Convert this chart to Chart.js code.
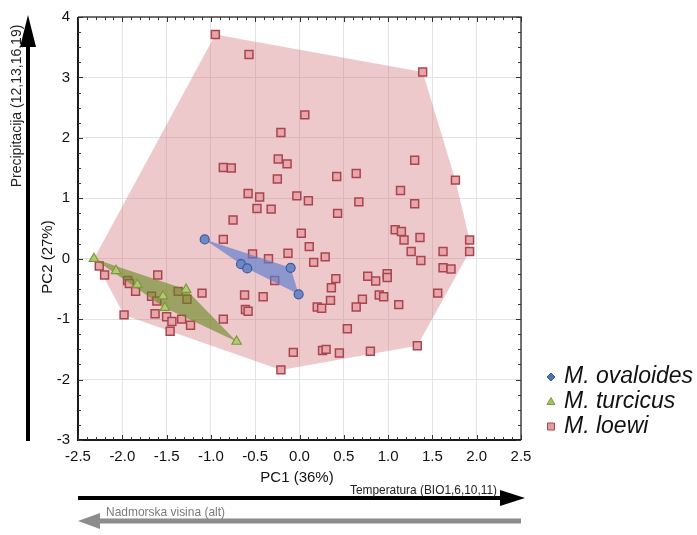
<!DOCTYPE html>
<html>
<head>
<meta charset="utf-8">
<script src="https://cdn.jsdelivr.net/npm/chart.js@4.4.1/dist/chart.umd.min.js"></script>
<style>
  body { margin: 0; background: #fff; }
  #wrap { width: 697px; height: 535px; }
</style>
</head>
<body>
<div id="wrap"><canvas id="pcaChart" width="697" height="535"></canvas></div>
<script>
// PCA scores per species (PC1, PC2)
const ovaloidesPC1 = [-1.07, -0.66, -0.59, -0.10, -0.01];
const ovaloidesPC2 = [0.32, -0.09, -0.16, -0.15, -0.59];

const turcicusPC1 = [-2.32, -2.07, -1.83, -1.54, -1.28, -1.52, -0.71];
const turcicusPC2 = [0.00, -0.20, -0.43, -0.62, -0.51, -0.81, -1.37];

const loewiPC1 = [
  -0.95, -0.57, 1.39, 0.06, -0.21, -0.86, -0.77, -0.24, -0.14, -0.25,
  -0.58, -0.45, -0.03, -0.48, -0.32, -0.75, 0.42, 0.64, 1.30, 1.76,
  1.14, 0.10, 0.67, 1.30, 0.43, 0.02, 1.08, 1.15, -0.86, -0.53,
  -0.35, -0.13, -0.28, -2.26, -2.20, -1.60, -1.94, -1.92, -1.85, -1.67,
  -1.61, -1.37, -1.27, -1.10, -0.62, -0.41, -0.61, -0.58, -0.86, -1.98,
  -1.63, -1.50, -1.44, -1.33, -1.23, -1.46, -0.07, -0.21, 1.18, 1.36,
  1.92, 1.92, 1.62, 1.26, 1.37, 0.11, 0.16, 0.29, 1.62, 1.71,
  0.41, 0.36, 0.77, 0.86, 0.99, 0.99, 0.90, 0.95, 0.71, 0.35,
  0.20, 0.25, 0.64, 1.12, 1.56, 0.54, 1.33, 0.26, 0.30, 0.45,
  0.80
];
const loewiPC2 = [
  3.71, 3.38, 3.09, 2.38, 2.09, 1.51, 1.50, 1.65, 1.57, 1.32,
  1.08, 1.02, 1.04, 0.83, 0.82, 0.64, 1.36, 1.41, 1.63, 1.30,
  1.13, 0.96, 0.94, 0.91, 0.75, 0.42, 0.48, 0.45, 0.32, 0.08,
  0.00, 0.09, -0.36, -0.12, -0.27, -0.27, -0.36, -0.41, -0.54, -0.62,
  -0.70, -0.54, -0.67, -0.57, -0.60, -0.63, -0.84, -0.87, -1.00, -0.93,
  -0.91, -0.96, -1.04, -1.00, -1.10, -1.20, -1.55, -1.84, 0.31, 0.35,
  0.31, 0.12, 0.12, 0.12, -0.03, 0.20, -0.06, 0.03, -0.15, -0.17,
  -0.33, -0.48, -0.29, -0.37, -0.25, -0.31, -0.60, -0.63, -0.67, -0.69,
  -0.80, -0.82, -0.80, -0.76, -0.57, -1.16, -1.44, -1.52, -1.50, -1.56,
  -1.53
];

const xTickValues = [-2.5, -2.0, -1.5, -1.0, -0.5, 0.0, 0.5, 1.0, 1.5, 2.0, 2.5];
const yTickValues = [-3, -2, -1, 0, 1, 2, 3, 4];

const toPoints = (xs, ys) => xs.map((x, i) => ({ x: x, y: ys[i] }));

const ovaloides = toPoints(ovaloidesPC1, ovaloidesPC2);
const turcicus = toPoints(turcicusPC1, turcicusPC2);
const loewi = toPoints(loewiPC1, loewiPC2);

// monotone chain convex hull
function convexHull(points) {
  const p = points.slice().sort((a, b) => a.x - b.x || a.y - b.y);
  const cross = (o, a, b) => (a.x - o.x) * (b.y - o.y) - (a.y - o.y) * (b.x - o.x);
  const lower = [];
  for (const pt of p) {
    while (lower.length >= 2 && cross(lower[lower.length - 2], lower[lower.length - 1], pt) <= 0) lower.pop();
    lower.push(pt);
  }
  const upper = [];
  for (let i = p.length - 1; i >= 0; i--) {
    const pt = p[i];
    while (upper.length >= 2 && cross(upper[upper.length - 2], upper[upper.length - 1], pt) <= 0) upper.pop();
    upper.push(pt);
  }
  upper.pop();
  lower.pop();
  return lower.concat(upper);
}

const FONT = '"Liberation Sans", Arial, sans-serif';

// shaded envelope drawn just under each species' markers
const hullPlugin = {
  id: 'hulls',
  beforeDatasetDraw(chart, args) {
    const ds = chart.data.datasets[args.index];
    const hull = convexHull(ds.hullPoints || ds.data);
    const xs = chart.scales.x, ys = chart.scales.y;
    const ctx = chart.ctx;
    ctx.save();
    ctx.beginPath();
    hull.forEach((p, i) => {
      const px = xs.getPixelForValue(p.x), py = ys.getPixelForValue(p.y);
      if (i === 0) ctx.moveTo(px, py); else ctx.lineTo(px, py);
    });
    ctx.closePath();
    ctx.fillStyle = ds.hullColor;
    ctx.fill();
    ctx.restore();
  }
};

// box frame with inward minor ticks
const framePlugin = {
  id: 'frame',
  afterDatasetsDraw(chart) {
    const { ctx, chartArea: a } = chart;
    const xs = chart.scales.x, ys = chart.scales.y;
    ctx.save();
    ctx.strokeStyle = '#444';
    ctx.lineWidth = 1.5;
    ctx.beginPath();
    ctx.moveTo(a.left, a.top); ctx.lineTo(a.right, a.top); ctx.lineTo(a.right, a.bottom);
    ctx.stroke();
    ctx.strokeStyle = '#1a1a1a';
    ctx.lineWidth = 2;
    ctx.beginPath();
    ctx.moveTo(a.left, a.top); ctx.lineTo(a.left, a.bottom); ctx.lineTo(a.right, a.bottom);
    ctx.stroke();

    ctx.lineWidth = 1;
    ctx.strokeStyle = '#333';
    ctx.beginPath();
    for (let i = -25; i <= 25; i++) {
      const px = Math.round(xs.getPixelForValue(i / 10)) + 0.5;
      const len = i % 5 === 0 ? 5 : 3;
      ctx.moveTo(px, a.top); ctx.lineTo(px, a.top + len);
      ctx.moveTo(px, a.bottom); ctx.lineTo(px, a.bottom - len);
    }
    for (let j = -12; j <= 16; j++) {
      const py = Math.round(ys.getPixelForValue(j / 4)) + 0.5;
      const len = j % 4 === 0 ? 5 : 3;
      ctx.moveTo(a.left, py); ctx.lineTo(a.left + len, py);
      ctx.moveTo(a.right, py); ctx.lineTo(a.right - len, py);
    }
    ctx.stroke();
    ctx.restore();
  }
};

function arrow(ctx, x1, y1, x2, y2, shaft, headLen, headHalf, color) {
  const ang = Math.atan2(y2 - y1, x2 - x1);
  const bx = x2 - Math.cos(ang) * headLen, by = y2 - Math.sin(ang) * headLen;
  ctx.save();
  ctx.strokeStyle = color;
  ctx.fillStyle = color;
  ctx.lineWidth = shaft;
  ctx.beginPath();
  ctx.moveTo(x1, y1); ctx.lineTo(bx, by);
  ctx.stroke();
  ctx.beginPath();
  ctx.moveTo(x2, y2);
  ctx.lineTo(bx + Math.sin(ang) * headHalf, by - Math.cos(ang) * headHalf);
  ctx.lineTo(bx - Math.sin(ang) * headHalf, by + Math.cos(ang) * headHalf);
  ctx.closePath();
  ctx.fill();
  ctx.restore();
}

// axis titles, gradient arrows and the species key
const annotationPlugin = {
  id: 'annotations',
  afterDraw(chart) {
    const ctx = chart.ctx;
    const a = chart.chartArea;
    ctx.save();
    ctx.fillStyle = '#111';
    ctx.textAlign = 'center';
    ctx.textBaseline = 'middle';
    ctx.font = '15px ' + FONT;
    ctx.fillText('PC1 (36%)', 297, 478);

    ctx.save();
    ctx.translate(48, 257);
    ctx.rotate(-Math.PI / 2);
    ctx.fillText('PC2 (27%)', 0, 0);
    ctx.restore();

    // PC2 gradient
    arrow(ctx, 28, 441, 28, 15, 4, 32, 8, '#000');
    ctx.save();
    ctx.translate(17, 106);
    ctx.rotate(-Math.PI / 2);
    ctx.font = '14px ' + FONT;
    ctx.fillStyle = '#222';
    ctx.fillText('Precipitacija (12,13,16,19)', 0, 0, 166);
    ctx.restore();

    // PC1 gradients
    arrow(ctx, a.left, 498, 525, 498, 4, 25, 8, '#000');
    ctx.font = '13px ' + FONT;
    ctx.textAlign = 'right';
    ctx.textBaseline = 'alphabetic';
    ctx.fillStyle = '#222';
    ctx.fillText('Temperatura (BIO1,6,10,11)', 497, 494, 147);

    arrow(ctx, a.right, 521, 78, 521, 5, 22, 8, '#8c8c8c');
    ctx.textAlign = 'left';
    ctx.fillStyle = '#7a7a7a';
    ctx.fillText('Nadmorska visina (alt)', 106, 516, 119);

    // key
    const key = [
      { label: 'M. ovaloides', y: 377, style: 'diamond', fill: '#4f73b8', stroke: '#3b5a98' },
      { label: 'M. turcicus', y: 401.5, style: 'triangle', fill: '#a8bf6a', stroke: '#7c9a36' },
      { label: 'M. loewi', y: 426.5, style: 'square', fill: '#e39aa0', stroke: '#a8464f' }
    ];
    ctx.font = 'italic 23px ' + FONT;
    ctx.textBaseline = 'middle';
    key.forEach(k => {
      ctx.beginPath();
      const x = 551, y = k.y;
      if (k.style === 'diamond') {
        ctx.moveTo(x, y - 4); ctx.lineTo(x + 4, y); ctx.lineTo(x, y + 4); ctx.lineTo(x - 4, y);
      } else if (k.style === 'triangle') {
        ctx.moveTo(x, y - 4); ctx.lineTo(x + 4, y + 3); ctx.lineTo(x - 4, y + 3);
      } else {
        ctx.rect(x - 3.5, y - 3.5, 7, 7);
      }
      ctx.closePath();
      ctx.fillStyle = k.fill;
      ctx.fill();
      ctx.lineWidth = 1;
      ctx.strokeStyle = k.stroke;
      ctx.stroke();
      ctx.fillStyle = '#111';
      ctx.fillText(k.label, 564, k.y);
    });
    ctx.restore();
  }
};

const config = {
  type: 'scatter',
  data: {
    datasets: [
      {
        label: 'M. ovaloides',
        data: ovaloides,
        pointStyle: 'circle',
        pointRadius: 4.5,
        backgroundColor: '#6d88c4',
        borderColor: '#3d5a9a',
        borderWidth: 1.2,
        hullColor: 'rgba(95, 125, 205, 0.68)'
      },
      {
        label: 'M. turcicus',
        data: turcicus,
        pointStyle: 'triangle',
        pointRadius: 5.5,
        backgroundColor: '#b4c878',
        borderColor: '#7c9a36',
        borderWidth: 1.2,
        hullColor: 'rgba(100, 135, 30, 0.6)'
      },
      {
        label: 'M. loewi',
        data: loewi,
        // envelope spans every sampled locality
        hullPoints: loewi.concat(turcicus, ovaloides),
        pointStyle: 'rect',
        pointRadius: 5.6,
        backgroundColor: '#e8a6ab',
        borderColor: '#a8464f',
        borderWidth: 1.5,
        hullColor: 'rgba(205, 100, 110, 0.35)'
      }
    ]
  },
  options: {
    responsive: false,
    animation: false,
    events: [],
    layout: { padding: { top: 15, right: 176, bottom: 0, left: 0 } },
    plugins: {
      legend: { display: false },
      tooltip: { enabled: false }
    },
    scales: {
      x: {
        type: 'linear',
        min: -2.5,
        max: 2.5,
        afterBuildTicks: s => { s.ticks = xTickValues.map(v => ({ value: v })); },
        afterFit: s => { s.height = 95; },
        ticks: {
          callback: v => v.toFixed(1),
          font: { family: FONT, size: 15 },
          color: '#111',
          padding: 8,
          maxRotation: 0,
          autoSkip: false
        },
        grid: { color: '#e3e3e3', drawTicks: false },
        border: { display: false }
      },
      y: {
        type: 'linear',
        min: -3,
        max: 4,
        afterBuildTicks: s => { s.ticks = yTickValues.map(v => ({ value: v })); },
        afterFit: s => { s.width = 78; },
        ticks: {
          callback: v => String(v),
          font: { family: FONT, size: 15 },
          color: '#111',
          padding: 8,
          autoSkip: false
        },
        grid: { color: '#e3e3e3', drawTicks: false },
        border: { display: false }
      }
    }
  },
  plugins: [hullPlugin, framePlugin, annotationPlugin]
};

const pcaChart = new Chart(document.getElementById('pcaChart').getContext('2d'), config);
</script>
</body>
</html>
